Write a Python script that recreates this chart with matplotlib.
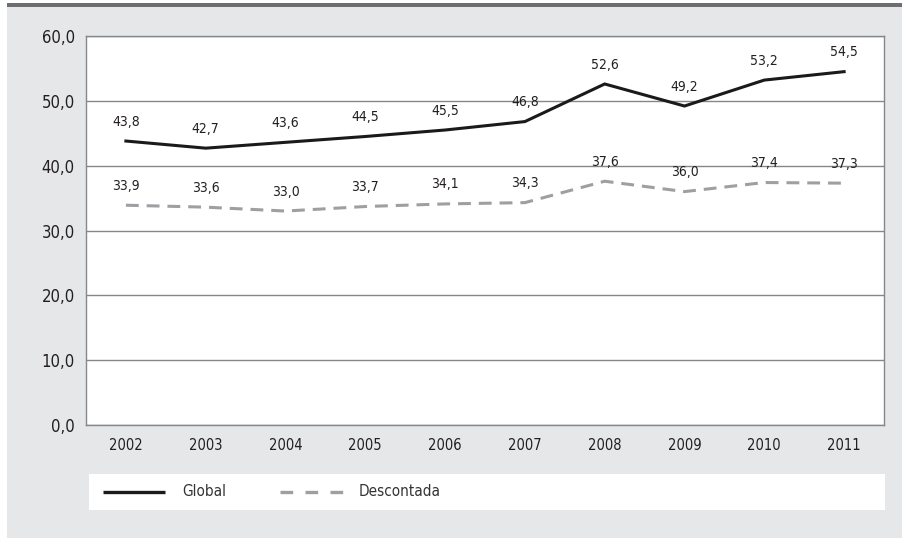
import matplotlib
matplotlib.use("Agg")
import matplotlib.pyplot as plt
from matplotlib.patches import Rectangle
from matplotlib.lines import Line2D
from matplotlib.ticker import FuncFormatter
import numpy as np

plt.rcParams["font.family"] = ["DejaVu Sans"]
plt.rcParams["font.stretch"] = "condensed"

# ── data ──────────────────────────────────────────────────────────────────────
years = ["2002", "2003", "2004", "2005", "2006", "2007", "2008", "2009", "2010", "2011"]
global_vals = [43.8, 42.7, 43.6, 44.5, 45.5, 46.8, 52.6, 49.2, 53.2, 54.5]
descontada_vals = [33.9, 33.6, 33.0, 33.7, 34.1, 34.3, 37.6, 36.0, 37.4, 37.3]
y_ticks = [0, 10, 20, 30, 40, 50, 60]

TEXT = "#231f20"
GRID = "#858789"
BG = "#e6e7e8"
GRAY_LINE = "#9d9fa2"

W, H = 902, 541
fig = plt.figure(figsize=(W / 100, H / 100), dpi=100)
fig.patch.set_facecolor("white")


def fx(px):
    return px / W


def fy(py):
    return 1 - py / H


def comma(v, _=None):
    return f"{v:.1f}".replace(".", ",")


# background panel + top rule
fig.add_artist(Rectangle((fx(7), fy(538)), fx(902) - fx(7), fy(7) - fy(538),
                         transform=fig.transFigure, facecolor=BG,
                         edgecolor="none", zorder=0))
fig.add_artist(Rectangle((fx(7), fy(7)), fx(902) - fx(7), fy(3) - fy(7),
                         transform=fig.transFigure, facecolor="#6d6e71",
                         edgecolor="none", zorder=0))

ax = fig.add_axes([fx(86), fy(425), (884 - 86) / W, (425 - 36) / H])
ax.set_facecolor("white")
ax.set_zorder(1)

x = np.arange(len(years))

ax.plot(x, descontada_vals, color=GRAY_LINE, lw=2.2, dashes=(4.2, 2.6),
        dash_capstyle="butt", zorder=3)
ax.plot(x, global_vals, color="#1a1a1a", lw=2.2, solid_joinstyle="miter",
        zorder=4)

for xi, v in zip(x, global_vals):
    ax.annotate(comma(v), (xi, v), xytext=(0, 14), textcoords="offset points",
                ha="center", va="center", fontsize=10, color=TEXT)
for xi, v in zip(x, descontada_vals):
    ax.annotate(comma(v), (xi, v), xytext=(0, 14), textcoords="offset points",
                ha="center", va="center", fontsize=10, color=TEXT)

ax.set_xlim(-0.5, len(years) - 0.5)
ax.set_ylim(0, 60)
ax.set_xticks(x)
ax.set_xticklabels(years)
ax.set_yticks(y_ticks)
ax.yaxis.set_major_formatter(FuncFormatter(comma))
ax.tick_params(axis="y", length=0, pad=8, labelsize=12, labelcolor=TEXT)
ax.tick_params(axis="x", length=0, pad=9, labelsize=10.5, labelcolor=TEXT)
ax.grid(axis="y", color=GRID, lw=1)
ax.set_axisbelow(True)
for side in ("left", "right", "bottom", "top"):
    ax.spines[side].set_color(GRID)
    ax.spines[side].set_linewidth(1)

# legend strip
fig.add_artist(Rectangle((fx(89), fy(510)), (885 - 89) / W, (510 - 474) / H,
                         transform=fig.transFigure, facecolor="white",
                         edgecolor="none", zorder=1))
fig.add_artist(Line2D([fx(103), fx(165)], [fy(492)] * 2, transform=fig.transFigure,
                      color="#1a1a1a", lw=2.4, solid_capstyle="butt", zorder=2))
fig.text(fx(182), fy(492), "Global", va="center", ha="left", fontsize=11,
         color="#333333", zorder=2)
fig.add_artist(Line2D([fx(280), fx(343)], [fy(492)] * 2, transform=fig.transFigure,
                      color=GRAY_LINE, lw=2.4, dashes=(3.8, 3.7),
                      dash_capstyle="butt", zorder=2))
fig.text(fx(359), fy(492), "Descontada", va="center", ha="left", fontsize=11,
         color="#333333", zorder=2)

fig.savefig("out.png", dpi=100)
